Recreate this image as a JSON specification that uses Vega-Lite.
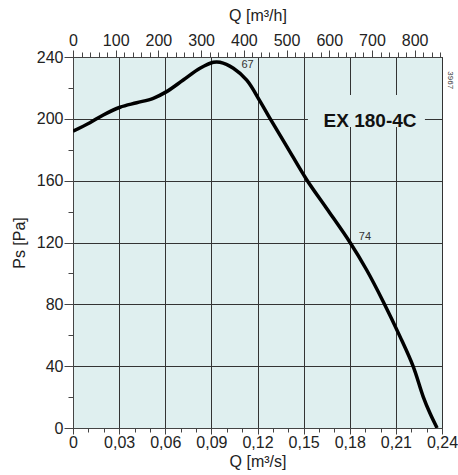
{
  "$schema": "https://vega.github.io/schema/vega-lite/v6.json",
  "width": 369,
  "height": 371,
  "autosize": "none",
  "padding": {"left": 73, "top": 57, "right": 16, "bottom": 47},
  "background": "white",
  "config": {
    "view": {"fill": "#dfefef", "stroke": "#333333", "strokeWidth": 1},
    "font": "Liberation Sans",
    "axis": {
      "labelFont": "Liberation Sans",
      "titleFont": "Liberation Sans",
      "labelFontSize": 16,
      "titleFontSize": 16,
      "titleFontWeight": "normal",
      "labelColor": "#222222",
      "titleColor": "#222222",
      "domainColor": "#444444",
      "tickColor": "#444444",
      "gridColor": "#333333",
      "gridWidth": 1,
      "labelFlush": false,
      "labelOverlap": false
    }
  },
  "layer": [
    {
      "data": {"values": [
        {"q": 0, "ps": 192},
        {"q": 0.011, "ps": 197.5},
        {"q": 0.0197, "ps": 202.5},
        {"q": 0.0306, "ps": 207.5},
        {"q": 0.0414, "ps": 210.4},
        {"q": 0.0522, "ps": 213.3},
        {"q": 0.0609, "ps": 217.6},
        {"q": 0.0717, "ps": 225.1},
        {"q": 0.0826, "ps": 232.7},
        {"q": 0.0913, "ps": 236.6},
        {"q": 0.0956, "ps": 236.6},
        {"q": 0.1043, "ps": 232.7},
        {"q": 0.113, "ps": 225.0},
        {"q": 0.1216, "ps": 211.5},
        {"q": 0.1281, "ps": 200.3},
        {"q": 0.139, "ps": 182.2},
        {"q": 0.152, "ps": 160.6},
        {"q": 0.165, "ps": 142.0},
        {"q": 0.1802, "ps": 120.0},
        {"q": 0.191, "ps": 102.2},
        {"q": 0.2018, "ps": 81.7},
        {"q": 0.2127, "ps": 59.1},
        {"q": 0.2213, "ps": 39.7},
        {"q": 0.2278, "ps": 20.2},
        {"q": 0.2322, "ps": 9.5},
        {"q": 0.2368, "ps": 0}
      ]},
      "mark": {"type": "line", "color": "black", "strokeWidth": 3.5, "interpolate": "catmull-rom", "clip": true},
      "encoding": {
        "x": {
          "field": "q",
          "type": "quantitative",
          "scale": {"domain": [0, 0.24], "nice": false, "zero": false},
          "axis": {
            "orient": "bottom",
            "title": "Q [m³/s]",
            "values": [0, 0.01, 0.02, 0.03, 0.04, 0.05, 0.06, 0.07, 0.08, 0.09, 0.1, 0.11, 0.12, 0.13, 0.14, 0.15, 0.16, 0.17, 0.18, 0.19, 0.2, 0.21, 0.22, 0.23, 0.24],
            "labelExpr": "round(datum.value*100) % 3 == 0 ? (datum.value == 0 ? '0' : replace(format(datum.value, '.2f'), '.', ',')) : ''",
            "labelOverlap": false,
            "tickSize": {"condition": {"test": "round(datum.value*100) % 3 == 0", "value": 6}, "value": 4},
            "labelPadding": 0,
            "titlePadding": 3,
            "grid": true,
            "gridOpacity": {"condition": {"test": "round(datum.value*100) % 3 == 0", "value": 1}, "value": 0}
          }
        },
        "y": {
          "field": "ps",
          "type": "quantitative",
          "scale": {"domain": [0, 240], "nice": false},
          "axis": {
            "title": "Ps [Pa]",
            "values": [0, 20, 40, 60, 80, 100, 120, 140, 160, 180, 200, 220, 240],
            "labelExpr": "datum.value % 40 == 0 ? datum.label : ''",
            "labelOverlap": false,
            "tickSize": {"condition": {"test": "datum.value % 40 == 0", "value": 9}, "value": 5},
            "labelPadding": 1,
            "titlePadding": 9,
            "grid": true,
            "gridOpacity": {"condition": {"test": "datum.value % 40 == 0", "value": 1}, "value": 0}
          }
        }
      }
    },
    {
      "data": {"values": [{"q": 0}]},
      "mark": {"type": "point", "opacity": 0},
      "encoding": {
        "x": {
          "field": "q",
          "type": "quantitative",
          "axis": {
            "orient": "top",
            "title": "Q [m³/h]",
            "values": [0, 0.0055556, 0.0111111, 0.0166667, 0.0222222, 0.0277778, 0.0333333, 0.0388889, 0.0444444, 0.05, 0.0555556, 0.0611111, 0.0666667, 0.0722222, 0.0777778, 0.0833333, 0.0888889, 0.0944444, 0.1, 0.1055556, 0.1111111, 0.1166667, 0.1222222, 0.1277778, 0.1333333, 0.1388889, 0.1444444, 0.15, 0.1555556, 0.1611111, 0.1666667, 0.1722222, 0.1777778, 0.1833333, 0.1888889, 0.1944444, 0.2, 0.2055556, 0.2111111, 0.2166667, 0.2222222, 0.2277778, 0.2333333, 0.2388889],
            "labelExpr": "round(datum.value*3600) % 100 == 0 ? format(round(datum.value*3600), 'd') : ''",
            "labelOverlap": false,
            "tickSize": {"condition": {"test": "round(datum.value*3600) % 100 == 0", "value": 7}, "value": 5},
            "labelPadding": 2,
            "titlePadding": 9,
            "grid": false
          }
        }
      }
    },
    {
      "data": {"values": [{"label": "EX 180-4C"}]},
      "mark": {"type": "rect", "fill": "#dfefef"},
      "encoding": {
        "x": {"datum": 0.1528, "type": "quantitative", "axis": null},
        "x2": {"datum": 0.2289},
        "y": {"datum": 194.7, "type": "quantitative", "axis": null},
        "y2": {"datum": 215.4}
      }
    },
    {
      "data": {"values": [{"label": "EX 180-4C"}]},
      "mark": {"type": "text", "fontSize": 19, "fontWeight": "bold", "color": "#111111", "font": "Liberation Sans"},
      "encoding": {
        "x": {"datum": 0.1932, "type": "quantitative", "axis": null},
        "y": {"datum": 198.5, "type": "quantitative", "axis": null},
        "text": {"field": "label"}
      }
    },
    {
      "data": {"values": [{"label": "67", "q": 0.1135, "ps": 234.8}, {"label": "74", "q": 0.1899, "ps": 123.4}]},
      "mark": {"type": "text", "fontSize": 11, "color": "#333333", "font": "Liberation Sans"},
      "encoding": {
        "x": {"field": "q", "type": "quantitative", "axis": null},
        "y": {"field": "ps", "type": "quantitative", "axis": null},
        "text": {"field": "label"}
      }
    },
    {
      "data": {"values": [{"label": "3967"}]},
      "mark": {"type": "text", "fontSize": 8, "color": "#333333", "angle": 90, "font": "Liberation Sans"},
      "encoding": {
        "x": {"datum": 0.2452, "type": "quantitative", "axis": null},
        "y": {"datum": 225, "type": "quantitative", "axis": null},
        "text": {"field": "label"}
      }
    }
  ],
  "resolve": {"axis": {"x": "independent", "y": "independent"}}
}
